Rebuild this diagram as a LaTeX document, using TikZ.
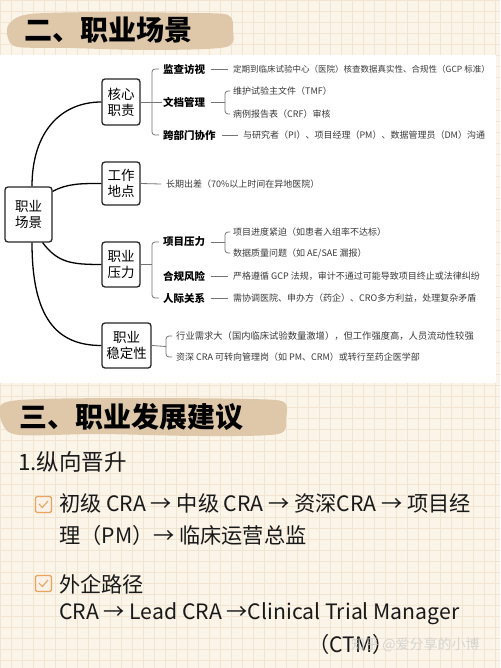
\documentclass[tikz,border=0pt]{standalone}
\usepackage{fontspec}
\setmainfont{Noto Sans CJK SC}
\usepackage{xcolor}
\usepackage{tikz}
\usetikzlibrary{positioning,calc}

\definecolor{paper}{HTML}{FBF4E9}
\definecolor{gridline}{HTML}{F1E5D2}
\definecolor{brush}{HTML}{DFC8AA}
\definecolor{tickorange}{HTML}{EBA35E}
\definecolor{leafgray}{HTML}{3A3A3A}

\tikzset{
  topic/.style={draw=black!85, line width=1.3pt, rounded corners=3pt, fill=white,
    align=center, inner sep=0pt, font=\fontsize{13.5}{16}\selectfont},
  sub/.style={anchor=west, inner sep=1pt, font=\fontsize{10.5}{12}\selectfont\bfseries},
  leaf/.style={anchor=west, inner sep=1pt, text=leafgray, font=\fontsize{9}{10}\selectfont},
  branch/.style={line width=1.3pt, black},
  brk/.style={line width=0.8pt, black!55, rounded corners=3pt},
  lnk/.style={line width=0.8pt, black!55},
  heading/.style={anchor=west, inner sep=0pt, font=\fontsize{28}{30}\selectfont\bfseries},
  body/.style={anchor=west, inner sep=0pt, text=black!90, font=\fontsize{21.2}{23}\selectfont},
  checkbox/.style={draw=tickorange, line width=1.2pt, fill=tickorange!15,
    rounded corners=1.5pt, minimum size=16pt, inner sep=0pt},
}

\begin{document}
\begin{tikzpicture}[x=1pt, y=-1pt]
  % Paper and grid
  \fill[paper] (0,0) rectangle (500,668);
  \useasboundingbox (0,0) rectangle (500,668);
  \foreach \gx in {0,11,...,500} \draw[gridline, line width=0.4pt] (\gx,0) -- (\gx,668);
  \foreach \gy in {0,11,...,668} \draw[gridline, line width=0.4pt] (0,\gy) -- (500,\gy);

  % Heading two
  \fill[brush] plot[smooth cycle] coordinates {(9,24) (30,14) (110,12) (190,13) (228,15)
    (233,30) (226,47) (150,50) (70,48) (18,47) (8,38)};
  \node[heading] (sec2) at (24,30) {二、职业场景};

  % Mind map panel
  \fill[white] (0,55) rectangle (496,383);

  % Topic boxes
  \node[topic, minimum width=47pt, minimum height=55pt] (root) at (28.5,214.5) {职业\\场景};
  \node[topic, minimum width=38pt, minimum height=46pt] (core) at (121,102) {核心\\职责};
  \node[topic, minimum width=38pt, minimum height=43pt] (site) at (121,183.5) {工作\\地点};
  \node[topic, minimum width=38pt, minimum height=45pt] (press) at (121,264.5) {职业\\压力};
  \node[topic, minimum width=49pt, minimum height=45pt] (stab) at (126.5,345.5) {职业\\稳定性};

  % Branches from root
  \draw[branch] ([xshift=3.5pt]root.north) .. controls +(0,-55) and +(-40,0) .. (core.west);
  \draw[branch] ([yshift=-5pt]root.north east) .. controls +(15,-8) and +(-20,0) .. (site.west);
  \draw[branch] ([xshift=-10pt]root.south east) .. controls +(15,20) and +(-30,0) .. (press.west);
  \draw[branch] ([xshift=3.5pt]root.south) .. controls +(0,75) and +(-45,0) .. (stab.west);

  % Core duties
  \coordinate (coreSpine) at (152,102);
  \node[sub] (visit) at (162,69) {监查访视};
  \node[sub] (docs) at (162,102) {文档管理};
  \node[sub] (cross) at (162,135) {跨部门协作};
  \draw[lnk] (core.east) -- (docs.west);
  \draw[brk] ([xshift=-3pt]visit.west) -- (visit.west -| coreSpine) -- (cross.west -| coreSpine) -- ([xshift=-3pt]cross.west);

  \node[leaf, font=\fontsize{8.5}{10}\selectfont] (visitT) at (232,69) {定期到临床试验中心（医院）核查数据真实性、合规性（GCP 标准）};
  \draw[lnk] ([xshift=5pt]visit.east) -- ([xshift=-4pt]visitT.west);

  \coordinate (docSpine) at (225,102);
  \node[leaf] (tmf) at (232,91) {维护试验主文件（TMF）};
  \node[leaf] (crf) at (232,114) {病例报告表（CRF）审核};
  \draw[lnk] ([xshift=5pt]docs.east) -- (docSpine);
  \draw[brk] ([xshift=-2pt]tmf.west) -- (tmf.west -| docSpine) -- (crf.west -| docSpine) -- ([xshift=-2pt]crf.west);

  \node[leaf] (crossT) at (242,135) {与研究者（PI）、项目经理（PM）、数据管理员（DM）沟通};
  \draw[lnk] ([xshift=5pt]cross.east) -- ([xshift=-4pt]crossT.west);

  % Work place
  \node[leaf] (siteT) at (165,184) {长期出差（70\%以上时间在异地医院）};
  \draw[lnk] (site.east) -- ([xshift=-4pt]siteT.west);

  % Pressure
  \coordinate (pressSpine) at (152,264.5);
  \node[sub] (proj) at (162,242) {项目压力};
  \node[sub] (comp) at (162,276) {合规风险};
  \node[sub] (rel) at (162,298) {人际关系};
  \draw[lnk] (press.east) -- (pressSpine);
  \draw[brk] ([xshift=-3pt]proj.west) -- (proj.west -| pressSpine) -- (rel.west -| pressSpine) -- ([xshift=-3pt]rel.west);

  \coordinate (projSpine) at (225,242);
  \node[leaf] (projA) at (232,232) {项目进度紧迫（如患者入组率不达标）};
  \node[leaf] (projB) at (232,253) {数据质量问题（如 AE/SAE 漏报）};
  \draw[lnk] ([xshift=5pt]proj.east) -- (projSpine);
  \draw[brk] ([xshift=-2pt]projA.west) -- (projA.west -| projSpine) -- (projB.west -| projSpine) -- ([xshift=-2pt]projB.west);

  \node[leaf] (compT) at (232,276) {严格遵循 GCP 法规，审计不通过可能导致项目终止或法律纠纷};
  \draw[lnk] ([xshift=5pt]comp.east) -- ([xshift=-4pt]compT.west);
  \node[leaf] (relT) at (232,298) {需协调医院、申办方（药企）、CRO多方利益，处理复杂矛盾};
  \draw[lnk] ([xshift=5pt]rel.east) -- ([xshift=-4pt]relT.west);

  % Stability
  \coordinate (stabSpine) at (166,346.5);
  \node[leaf, font=\fontsize{9.3}{10}\selectfont] (stabA) at (175,336) {行业需求大（国内临床试验数量激增），但工作强度高，人员流动性较强};
  \node[leaf] (stabB) at (175,357) {资深 CRA 可转向管理岗（如 PM、CRM）或转行至药企医学部};
  \draw[lnk] (stab.east) -- (stabSpine);
  \draw[brk] ([xshift=-3pt]stabA.west) -- (stabA.west -| stabSpine) -- (stabB.west -| stabSpine) -- ([xshift=-3pt]stabB.west);

  % Heading three
  \fill[brush] plot[smooth cycle] coordinates {(2,404) (40,399) (150,398) (250,399) (284,402)
    (286,418) (278,434) (200,436) (100,434) (20,435) (3,425)};
  \node[heading] (sec3) at (19,417) {三、职业发展建议};

  % Career paths
  \node[body, font=\fontsize{22.5}{24}\selectfont] (vert) at (18,462) {1.纵向晋升};

  \node[checkbox] (cb1) at (43.5,504.5) {};
  \draw[tickorange, line width=1.1pt] ([shift={(-4.5,-0.5)}]cb1.center) -- ([shift={(-1.2,3)}]cb1.center) -- ([shift={(4.5,-3.5)}]cb1.center);
  \node[body] (path1a) at (59,503) {初级 CRA → 中级 CRA → 资深CRA → 项目经};
  \node[body] (path1b) at (59,535) {理（PM）→ 临床运营总监};

  \node[checkbox] (cb2) at (43.5,583.5) {};
  \draw[tickorange, line width=1.1pt] ([shift={(-4.5,-0.5)}]cb2.center) -- ([shift={(-1.2,3)}]cb2.center) -- ([shift={(4.5,-3.5)}]cb2.center);
  \node[body] (path2a) at (59,584) {外企路径};
  \node[body] (path2b) at (59,614) {CRA → Lead CRA →Clinical Trial Manager};
  \node[body] (path2c) at (308,644) {（CTM）};

  % Watermark
  \node[anchor=west, inner sep=0pt, text=white!80!black, opacity=0.8,
    font=\fontsize{14}{16}\selectfont] (mark) at (351,645) {知乎 @爱分享的小博};
\end{tikzpicture}
\end{document}
